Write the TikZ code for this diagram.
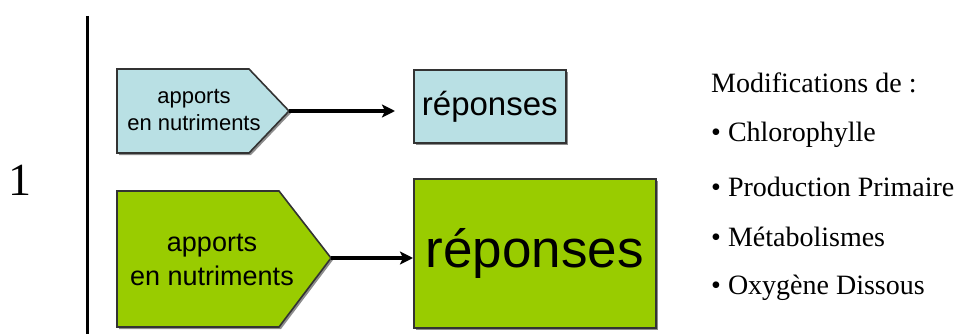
\documentclass[tikz,border=0pt]{standalone}
\usepackage{fontspec}
\setmainfont{Liberation Serif}
\newfontfamily\arialf{Liberation Sans}
\usetikzlibrary{arrows.meta,shadows}
\definecolor{lblue}{HTML}{B9E0E4}
\definecolor{lgreen}{HTML}{99CC00}
\begin{document}
\begin{tikzpicture}[x=1pt,y=-1pt,
  shp/.style={draw=black!80, line width=1.6pt, line join=miter,
    drop shadow={shadow xshift=2pt,shadow yshift=-2pt,fill=black!45,opacity=1}},
  lbl/.style={font=\arialf, align=center, inner sep=0pt},
  arr/.style={line width=3.5pt, -{Stealth[length=13pt,width=13pt,inset=3pt]}},
  rtxt/.style={anchor=west, inner sep=0pt, font=\fontsize{28}{32}\selectfont}]
\useasboundingbox (0,0) rectangle (960,334);
% vertical bar and number
\coordinate (vtop) at (87,16);
\coordinate (vbot) at (87,334);
\draw[line width=3pt] (vtop) -- (vbot);
\node[inner sep=0pt, font=\fontsize{46}{50}\selectfont] (one) at (20,180) {1};
% light blue row
\draw[shp, fill=lblue] (117,69) -- (249,69) -- (289,111) -- (249,153) -- (117,153) -- cycle;
\coordinate (tip1) at (289,111);
\node[lbl, font=\arialf\fontsize{22}{27}\selectfont] (ap1) at (194,110) {apports\\en nutriments};
\node[shp, fill=lblue, anchor=north west, minimum width=152pt, minimum height=73pt, inner sep=0pt,
  font=\arialf\fontsize{33}{36}\selectfont] (r1) at (413,69) {réponses};
\draw[arr] (tip1) -- ([xshift=-18pt]tip1 -| r1.west);
% green row
\draw[shp, fill=lgreen] (117,191) -- (279,191) -- (331,258) -- (279,327) -- (117,327) -- cycle;
\coordinate (tip2) at (331,258);
\node[lbl, font=\arialf\fontsize{27}{34}\selectfont] (ap2) at (212,260) {apports\\en nutriments};
\node[shp, fill=lgreen, anchor=north west, minimum width=242pt, minimum height=149pt, inner sep=0pt,
  font=\arialf\fontsize{53}{56}\selectfont] (r2) at (413,178) {réponses};
\draw[arr] (tip2) -- (tip2 -| r2.west);
% right text
\node[rtxt] (m0) at (711,83) {Modifications de :};
\node[rtxt] (m1) at (711,135) {\textbullet\ Chlorophylle};
\node[rtxt] (m2) at (711,187) {\textbullet\ Production Primaire};
\node[rtxt] (m3) at (711,237) {\textbullet\ Métabolismes};
\node[rtxt] (m4) at (711,288) {\textbullet\ Oxygène Dissous};
\end{tikzpicture}
\end{document}
